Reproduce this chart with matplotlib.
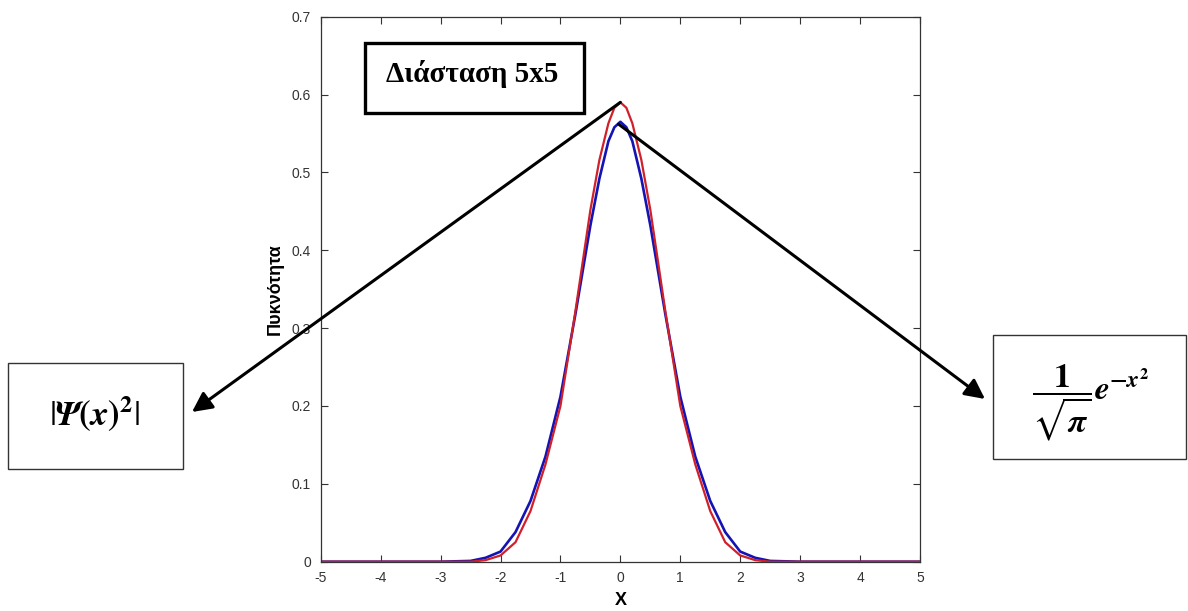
import matplotlib
matplotlib.use("Agg")
import matplotlib.pyplot as plt
from matplotlib.patches import Rectangle

# values
x_blue = [-5, -3, -2.5, -2.25, -2.0, -1.75, -1.5, -1.25, -1.0, -0.75, -0.5, -0.35, -0.2, -0.1, 0.0,
          0.1, 0.2, 0.35, 0.5, 0.75, 1.0, 1.25, 1.5, 1.75, 2.0, 2.25, 2.5, 3, 5]
y_blue = [0, 0, 0.001, 0.005, 0.013, 0.038, 0.078, 0.135, 0.212, 0.318, 0.432, 0.492, 0.540, 0.558, 0.565,
          0.558, 0.540, 0.492, 0.432, 0.318, 0.212, 0.135, 0.078, 0.038, 0.013, 0.005, 0.001, 0, 0]

x_red = [-5, -3, -2.5, -2.25, -2.0, -1.75, -1.5, -1.25, -1.0, -0.75, -0.5, -0.35, -0.2, -0.1, 0.0,
         0.1, 0.2, 0.35, 0.5, 0.75, 1.0, 1.25, 1.5, 1.75, 2.0, 2.25, 2.5, 3, 5]
y_red = [0, 0, 0.0, 0.002, 0.008, 0.025, 0.065, 0.125, 0.200, 0.322, 0.452, 0.516, 0.563, 0.583, 0.590,
         0.583, 0.563, 0.516, 0.452, 0.322, 0.200, 0.125, 0.065, 0.025, 0.008, 0.002, 0.0, 0, 0]

xticks = [-5, -4, -3, -2, -1, 0, 1, 2, 3, 4, 5]
yticks = [0, 0.1, 0.2, 0.3, 0.4, 0.5, 0.6, 0.7]
ytick_labels = ["0", "0.1", "0.2", "0.3", "0.4", "0.5", "0.6", "0.7"]

title_text = "Διάσταση 5x5"
left_label = r"$|\mathbfit{\Psi}\mathbf{(}\mathbfit{x}\mathbf{)}^{\mathbf{2}}|$"
right_label = r"$\dfrac{\mathbf{1}}{\sqrt{\mathbfit{\pi}}}\mathbfit{e}^{\mathbf{-}\mathbfit{x}^{\mathbf{2}}}$"

plt.rcParams["mathtext.fontset"] = "stix"

fig = plt.figure(figsize=(11.88, 6.11), dpi=100)
ax = fig.add_axes([0.270, 0.0807, 0.5044, 0.892])

ax.plot(x_blue, y_blue, color="#1414b4", lw=1.9)
ax.plot(x_red, y_red, color="#d0202a", lw=1.6)

ax.set_xlim(-5, 5)
ax.set_ylim(0, 0.7)
ax.set_xticks(xticks)
ax.set_xticklabels([str(t) for t in xticks])
ax.set_yticks(yticks)
ax.set_yticklabels(ytick_labels)
ax.tick_params(direction="in", top=True, right=True, length=5, width=0.8,
               labelsize=10, labelcolor="#333333", colors="#333333", pad=7)
for lbl in ax.get_xticklabels() + ax.get_yticklabels():
    lbl.set_family("Liberation Sans")
for s in ax.spines.values():
    s.set_color("#333333")
    s.set_linewidth(0.9)

ax.set_xlabel("X", fontsize=13, fontweight="bold", family="Liberation Sans", labelpad=5)
ax.set_ylabel("Πυκνότητα", fontsize=13, fontweight="bold", family="Liberation Sans", labelpad=6)

# boxes
fig.add_artist(Rectangle((0.3072, 0.8151), 0.1843, 0.1146, transform=fig.transFigure,
                         fill=False, lw=2.4, edgecolor="black"))
fig.text(0.3977, 0.8663, title_text, ha="center", va="baseline", fontsize=21,
         fontweight="bold", family="Liberation Serif")

fig.add_artist(Rectangle((0.0067, 0.2324), 0.1473, 0.1735, transform=fig.transFigure,
                         fill=False, lw=1.0, edgecolor="#333333"))
fig.text(0.080, 0.324, left_label, ha="center", va="center", fontsize=25)

fig.add_artist(Rectangle((0.8359, 0.2488), 0.1625, 0.203, transform=fig.transFigure,
                         fill=False, lw=1.0, edgecolor="#333333"))
fig.text(0.918, 0.3404, right_label, ha="center", va="center", fontsize=24)

arrow = dict(arrowstyle="-|>,head_length=0.6,head_width=0.3", lw=2.2, color="black",
             shrinkA=0, shrinkB=0, mutation_scale=20)
ax.annotate("", xy=(0.1616, 0.3257), xycoords="figure fraction",
            xytext=(0.0, 0.59), textcoords="data", arrowprops=arrow, annotation_clip=False)
ax.annotate("", xy=(0.8291, 0.347), xycoords="figure fraction",
            xytext=(-0.03, 0.562), textcoords="data", arrowprops=arrow, annotation_clip=False)

fig.savefig("out.png", dpi=100)
